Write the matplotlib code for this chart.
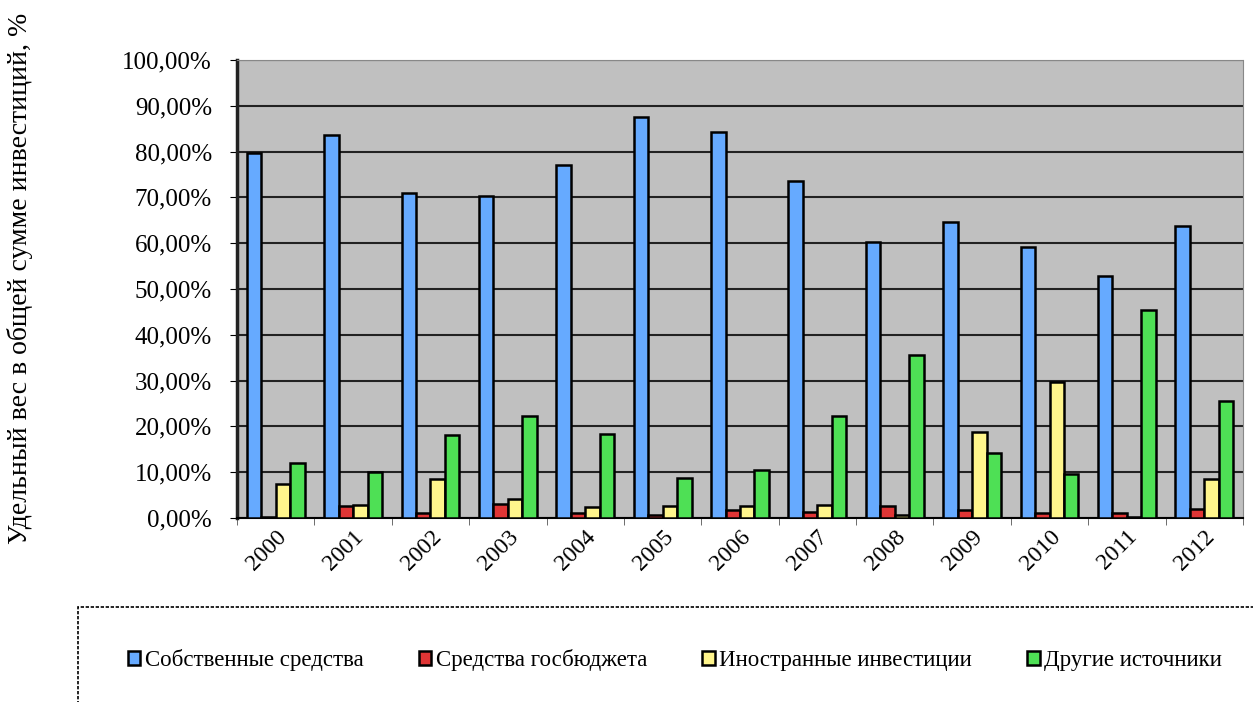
import matplotlib.pyplot as plt
import numpy as np
from matplotlib.patches import Rectangle
from matplotlib.ticker import FuncFormatter, MultipleLocator

# Data (share of total investment, %)
years = ['2000', '2001', '2002', '2003', '2004', '2005', '2006',
         '2007', '2008', '2009', '2010', '2011', '2012']
own_funds = [79.6, 83.7, 71.0, 70.2, 77.0, 87.5, 84.3, 73.5, 60.3, 64.7, 59.2, 52.8, 63.7]
state_budget = [0.3, 2.6, 1.2, 3.0, 1.2, 0.6, 1.75, 1.4, 2.7, 1.75, 1.1, 1.1, 1.9]
foreign_inv = [7.4, 2.9, 8.5, 4.1, 2.4, 2.7, 2.55, 2.9, 0.6, 18.8, 29.8, 0.3, 8.5]
other_sources = [12.1, 10.1, 18.1, 22.2, 18.4, 8.8, 10.5, 22.2, 35.5, 14.2, 9.6, 45.5, 25.6]

series_names = ['Собственные средства', 'Средства госбюджета',
                'Иностранные инвестиции', 'Другие источники']
series_values = [own_funds, state_budget, foreign_inv, other_sources]
colors = ['#66aaff', '#e03535', '#fff58c', '#4ee055']

plt.rcParams['font.family'] = ['Liberation Serif', 'DejaVu Serif']

fig = plt.figure(figsize=(12.53, 7.02), dpi=100)
ax = fig.add_axes([237 / 1253, 1 - 518 / 702, (1243 - 237) / 1253, (518 - 60) / 702])
ax.set_facecolor('#c0c0c0')

n = len(years)
x = np.arange(n)
w = 0.187
start = (1 - 4 * w) / 2
for k, (name, vals, col) in enumerate(zip(series_names, series_values, colors)):
    ax.bar(x + start + k * w, vals, width=w, align='edge', color=col,
           edgecolor='black', linewidth=1.8, label=name, zorder=3)

ax.set_xlim(0, n)
ax.set_ylim(0, 100)
ax.yaxis.set_major_locator(MultipleLocator(10))
ax.yaxis.set_major_formatter(FuncFormatter(lambda v, p: f'{v:.2f}'.replace('.', ',') + '%'))
ax.grid(axis='y', color='#222222', linewidth=1.5, zorder=1)

# category labels at centres, tick marks at boundaries
ax.set_xticks(x + 0.5)
ax.set_xticklabels(years, rotation=45, ha='right', rotation_mode='anchor')
ax.set_xticks(np.arange(n + 1), minor=True)
ax.tick_params(axis='x', which='major', length=0, pad=6, labelsize=17)
ax.tick_params(axis='x', which='minor', length=5, direction='out', color='#555555')
ax.tick_params(axis='y', length=5, direction='out', labelsize=18, pad=13)

for side in ['top', 'right']:
    ax.spines[side].set_color('#888888')
    ax.spines[side].set_linestyle((0, (2, 1)))
ax.spines['left'].set_linewidth(2.5)
ax.spines['left'].set_color('#222222')
ax.spines['bottom'].set_linewidth(1.5)

fig.text(20 / 1253, 1 - 278 / 702, 'Удельный вес в общей сумме инвестиций, %',
         rotation=90, ha='center', va='center', fontsize=20)

# legend box with dashed border running off the page
fig.patches.append(Rectangle((78 / 1253, -0.05), 1.1, (702 - 607) / 702 + 0.05,
                             transform=fig.transFigure, fill=False,
                             edgecolor='black', linewidth=1.2, linestyle=(0, (2, 1))))
handles, labels = ax.get_legend_handles_labels()
fig.legend(handles, labels, loc='center', bbox_to_anchor=(675 / 1253, 1 - 660 / 702),
           ncol=4, frameon=False, fontsize=16.5, handlelength=0.55, handleheight=0.55,
           handletextpad=0.2, columnspacing=2.4)

fig.savefig('out.png', dpi=100)
